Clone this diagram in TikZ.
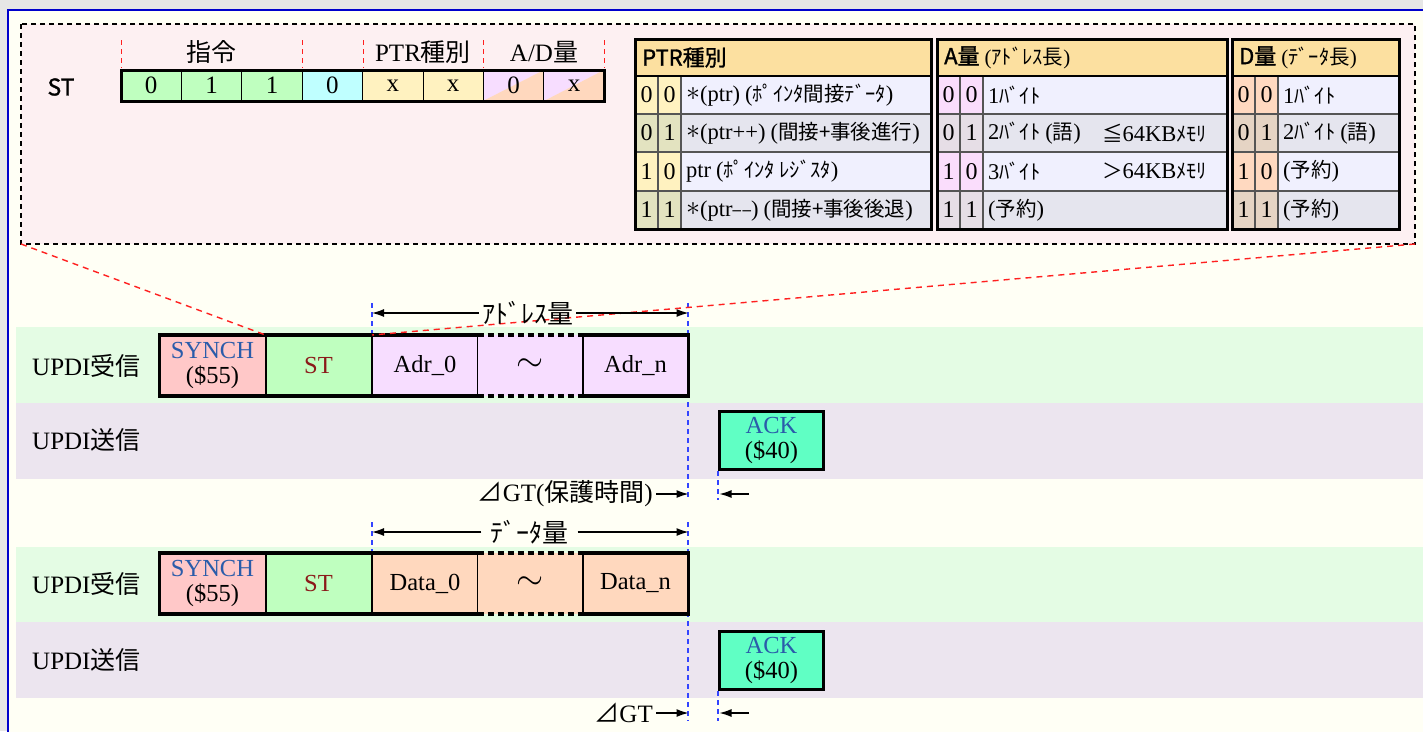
\documentclass[tikz,border=0pt]{standalone}
\usepackage{fontspec}
\setmainfont{Liberation Serif}
\newfontfamily\jp{Noto Sans CJK JP}
\newfontfamily\jpb[FakeBold=1.3]{Noto Sans CJK JP}
\usetikzlibrary{arrows.meta}
\definecolor{bggrey}{HTML}{E6E6E6}
\definecolor{ivory}{HTML}{FFFFF5}
\definecolor{frameblue}{HTML}{0000CC}
\definecolor{pinkbox}{HTML}{FDF0F2}
\definecolor{bandgreen}{HTML}{E4FCE4}
\definecolor{bandpurple}{HTML}{ECE5EF}
\definecolor{synchred}{HTML}{FFC8C8}
\definecolor{stgreen}{HTML}{BFFFBF}
\definecolor{adrpink}{HTML}{F7DDFF}
\definecolor{datapeach}{HTML}{FFD8BE}
\definecolor{ackgreen}{HTML}{60FFC4}
\definecolor{bitcyan}{HTML}{BFFFFF}
\definecolor{bityellow}{HTML}{FFF2C0}
\definecolor{tblhead}{HTML}{FCE0A0}
\definecolor{rowlight}{HTML}{F0F0FE}
\definecolor{rowdark}{HTML}{E5E5EE}
\definecolor{ptrlight}{HTML}{FFF2C0}
\definecolor{ptrdark}{HTML}{E3E3C0}
\definecolor{alight}{HTML}{FADDFC}
\definecolor{adark}{HTML}{E6DEE6}
\definecolor{dlight}{HTML}{FFD9C0}
\definecolor{ddark}{HTML}{E5D4C4}
\definecolor{txtblue}{HTML}{2A5CAA}
\definecolor{txtred}{HTML}{8B1A1A}
\definecolor{redline}{HTML}{FF2020}
\definecolor{bluedashc}{HTML}{3344FF}
\definecolor{cellline}{HTML}{555555}
\newcommand{\bigast}{\raisebox{0.5pt}{\scalebox{1.35}{$\ast$}}}
\newcommand{\cj}[1]{{\jp\fontsize{20.5}{22}\selectfont #1}}
\newcommand{\dmin}{\scalebox{0.75}[1]{–}\kern1.5pt\scalebox{0.75}[1]{–}}
\begin{document}
\begin{tikzpicture}[x=1pt,y=-1pt,
  tbox/.style={draw=black,line width=2pt,minimum width=106pt,minimum height=61pt,inner sep=0pt,outer sep=0pt,align=center,font=\fontsize{24.5}{25}\selectfont},
  tfill/.style={minimum width=106pt,minimum height=61pt,inner sep=0pt,outer sep=0pt,align=center,font=\fontsize{24.5}{25}\selectfont},
  ackbox/.style={draw=black,line width=3pt,fill=ackgreen,minimum width=104pt,minimum height=58pt,inner sep=0pt,outer sep=0pt,align=center,font=\fontsize{24.5}{25}\selectfont},
  thickframe/.style={line width=3.5pt,line cap=rect},
  tildedash/.style={line width=3.5pt,dash pattern=on 6pt off 4pt},
  bitcell/.style={draw=black,line width=1pt,minimum width=60.4pt,minimum height=31pt,inner sep=0pt,outer sep=0pt,font=\fontsize{25}{26}\selectfont},
  redtick/.style={draw=redline,line width=1pt,dash pattern=on 5pt off 4pt},
  reddash/.style={draw=redline,line width=1.4pt,dash pattern=on 6pt off 5pt},
  bluedash/.style={draw=bluedashc,line width=1.2pt,dash pattern=on 5pt off 4pt},
  dimarrow/.style={-{Latex[length=12pt,width=8pt]},line width=1.2pt},
  rowlbl/.style={anchor=west,font=\fontsize{25}{26}\selectfont,inner sep=0pt},
  celltxt/.style={anchor=west,font=\fontsize{22.5}{23}\selectfont,inner sep=0pt},
  bittxt/.style={font=\fontsize{24}{25}\selectfont,inner sep=0pt},
  headtxt/.style={anchor=west,font=\fontsize{22}{24}\selectfont,inner sep=0pt},
  toplbl/.style={font=\fontsize{25}{26}\selectfont,inner sep=0pt}
]
\useasboundingbox (0,0) rectangle (1423,731);
\fill[bggrey] (0,0) rectangle (1423,731);
\draw[frameblue,line width=2pt,fill=ivory] (8,10) rectangle (1450,760);
% pink dashed box
\draw[fill=pinkbox,line width=1.2pt,dash pattern=on 5pt off 4pt] (21,24) rectangle (1415,244);
\coordinate (pinkSW) at (21,244);
\coordinate (pinkSE) at (1415,244);

% bit field
\node[font=\jpb\fontsize{23}{24}\selectfont] (stl) at (61,87) {ST};
\foreach \x in {121,302,363,483,604} \draw[redtick] (\x,40) -- (\x,68);
\node[toplbl] (lblcmd) at (211,52) {\jp 指令};
\node[toplbl] (lblptr) at (423,52) {PTR{\jp 種別}};
\node[toplbl] (lblad) at (544,52) {A/D{\jp 量}};
\fill[adrpink] (483,70) -- (544,70) -- (483,101) -- cycle;
\fill[datapeach] (544,70) -- (544,101) -- (483,101) -- cycle;
\fill[adrpink] (544,70) -- (604,70) -- (544,101) -- cycle;
\fill[datapeach] (604,70) -- (604,101) -- (544,101) -- cycle;
\node[bitcell,fill=stgreen] (b1) at (151.2,85.5) {0};
\node[bitcell,fill=stgreen] (b2) at (211.6,85.5) {1};
\node[bitcell,fill=stgreen] (b3) at (272.0,85.5) {1};
\node[bitcell,fill=bitcyan] (b4) at (332.4,85.5) {0};
\node[bitcell,fill=bityellow] (b5) at (392.8,85.5) {x};
\node[bitcell,fill=bityellow] (b6) at (453.2,85.5) {x};
\node[bitcell] (b7) at (513.6,85.5) {0};
\node[bitcell] (b8) at (574.0,85.5) {x};
\draw[line width=3pt] (b1.north west) rectangle (b8.south east);

% ---------- PTR table
\fill[tblhead] (635,39) rectangle (931,76);
\foreach \yt/\yb/\cb/\ct/\ba/\bb in {76/114/ptrlight/rowlight/0/0, 114/152/ptrdark/rowdark/0/1, 152/191/ptrlight/rowlight/1/0, 191/229/ptrdark/rowdark/1/1}{
  \path[fill=\cb,draw=cellline,line width=1.2pt] (635,\yt) rectangle (658,\yb);
  \path[fill=\cb,draw=cellline,line width=1.2pt] (658,\yt) rectangle (681,\yb);
  \path[fill=\ct,draw=cellline,line width=1.2pt] (681,\yt) rectangle (931,\yb);
  \node[bittxt] (pba\yt) at (646.5,{(\yt+\yb)/2}) {\ba};
  \node[bittxt] (pbb\yt) at (669.5,{(\yt+\yb)/2}) {\bb};
}
\draw[line width=2.5pt] (635,76) -- (931,76);
\draw[line width=3pt] (635,39) rectangle (931,229);
\node[headtxt] (ph) at (642,57.5) {\jpb PTR種別};
\node[celltxt] (p1) at (686,95) {\bigast(ptr)\hspace{5pt}(\cj{ﾎﾟｲﾝﾀ間接ﾃﾞｰﾀ})};
\node[celltxt] (p2) at (686,133) {\bigast(ptr++)\hspace{5pt}(\cj{間接+事後進行})};
\node[celltxt] (p3) at (686,171.5) {ptr\hspace{5pt}(\cj{ﾎﾟｲﾝﾀ ﾚｼﾞｽﾀ})};
\node[celltxt] (p4) at (686,210) {\bigast(ptr\dmin)\hspace{5pt}(\cj{間接+事後後退})};

% ---------- A table
\fill[tblhead] (937,39) rectangle (1227,76);
\foreach \yt/\yb/\cb/\ct/\ba/\bb in {76/114/alight/rowlight/0/0, 114/152/adark/rowdark/0/1, 152/191/alight/rowlight/1/0, 191/229/adark/rowdark/1/1}{
  \path[fill=\cb,draw=cellline,line width=1.2pt] (937,\yt) rectangle (960,\yb);
  \path[fill=\cb,draw=cellline,line width=1.2pt] (960,\yt) rectangle (983,\yb);
  \path[fill=\ct,draw=cellline,line width=1.2pt] (983,\yt) rectangle (1227,\yb);
  \node[bittxt] (aba\yt) at (948.5,{(\yt+\yb)/2}) {\ba};
  \node[bittxt] (abb\yt) at (971.5,{(\yt+\yb)/2}) {\bb};
}
\draw[line width=2.5pt] (937,76) -- (1227,76);
\draw[line width=3pt] (937,39) rectangle (1227,229);
\node[headtxt] (ah) at (944,57.5) {{\jpb A量}\hspace{5pt}{\fontsize{21}{22}\selectfont(\cj{ｱﾄﾞﾚｽ長})}};
\node[celltxt] (a1) at (988,95) {1\cj{ﾊﾞｲﾄ}};
\node[celltxt] (a2) at (988,133) {2\cj{ﾊﾞｲﾄ}\hspace{5pt}(\cj{語})};
\node[celltxt] (a2b) at (1102,133) {\cj{≦}64KB\cj{ﾒﾓﾘ}};
\node[celltxt] (a3) at (988,171.5) {3\cj{ﾊﾞｲﾄ}};
\node[celltxt] (a3b) at (1102,171.5) {\cj{＞}64KB\cj{ﾒﾓﾘ}};
\node[celltxt] (a4) at (988,210) {(\cj{予約})};

% ---------- D table
\fill[tblhead] (1232,39) rectangle (1399,76);
\foreach \yt/\yb/\cb/\ct/\ba/\bb in {76/114/dlight/rowlight/0/0, 114/152/ddark/rowdark/0/1, 152/191/dlight/rowlight/1/0, 191/229/ddark/rowdark/1/1}{
  \path[fill=\cb,draw=cellline,line width=1.2pt] (1232,\yt) rectangle (1255,\yb);
  \path[fill=\cb,draw=cellline,line width=1.2pt] (1255,\yt) rectangle (1278,\yb);
  \path[fill=\ct,draw=cellline,line width=1.2pt] (1278,\yt) rectangle (1399,\yb);
  \node[bittxt] (dba\yt) at (1243.5,{(\yt+\yb)/2}) {\ba};
  \node[bittxt] (dbb\yt) at (1266.5,{(\yt+\yb)/2}) {\bb};
}
\draw[line width=2.5pt] (1232,76) -- (1399,76);
\draw[line width=3pt] (1232,39) rectangle (1399,229);
\node[headtxt] (dh) at (1239,57.5) {{\jpb D量}\hspace{5pt}{\fontsize{21}{22}\selectfont(\cj{ﾃﾞｰﾀ長})}};
\node[celltxt] (d1) at (1283,95) {1\cj{ﾊﾞｲﾄ}};
\node[celltxt] (d2) at (1283,133) {2\cj{ﾊﾞｲﾄ}\hspace{5pt}(\cj{語})};
\node[celltxt] (d3) at (1283,171.5) {(\cj{予約})};
\node[celltxt] (d4) at (1283,210) {(\cj{予約})};

% ---------- bands
\fill[bandgreen] (16,327) rectangle (1423,403);
\fill[bandpurple] (16,403) rectangle (1423,479);
\fill[bandgreen] (16,547) rectangle (1423,622);
\fill[bandpurple] (16,622) rectangle (1423,698);

\node[rowlbl] (l1) at (32,365.5) {UPDI{\jp 受信}};
\node[rowlbl] (l2) at (32,440) {UPDI{\jp 送信}};
\node[rowlbl] (l3) at (32,583.5) {UPDI{\jp 受信}};
\node[rowlbl] (l4) at (32,660) {UPDI{\jp 送信}};

% ---------- section 1
\draw[bluedash] (372,303) -- (372,335);
\draw[bluedash] (688,303) -- (688,500);
\draw[bluedash] (718,471) -- (718,500);
\node[tbox,fill=synchred] (s1) at (212.5,365.5) {\textcolor{txtblue}{SYNCH}\\(\$55)};
\node[tbox,fill=stgreen] (st1) at (318.5,365.5) {\textcolor{txtred}{ST}};
\node[tbox,fill=adrpink] (adr0) at (425,365.5) {Adr\_0};
\node[tfill,fill=adrpink] (til1) at (530.5,365.5) {\scalebox{1.4}{$\sim$}};
\node[tbox,fill=adrpink] (adrn) at (635.5,365.5) {Adr\_n};
\draw[thickframe] (til1.north west) -- (s1.north west) -- (s1.south west) -- (til1.south west);
\draw[thickframe] (til1.north east) -- (adrn.north east) -- (adrn.south east) -- (til1.south east);
\draw[tildedash] (til1.north west) -- (til1.north east);
\draw[tildedash] (til1.south west) -- (til1.south east);
\node[ackbox] (ack1) at (771.5,440) {\textcolor{txtblue}{ACK}\\(\$40)};

\draw[reddash] (pinkSW) -- (s1.north east);
\draw[reddash] (pinkSE) -- (adr0.north west);

\node[toplbl,font=\jp\fontsize{26}{28}\selectfont,inner sep=3pt] (adrlbl) at (527.5,313) {ｱﾄﾞﾚｽ量};
\draw[dimarrow] (adrlbl.west) -- (adr0.west |- adrlbl.west);
\draw[dimarrow] (adrlbl.east) -- (adrn.east |- adrlbl.east);

\node[toplbl,anchor=east,inner sep=3pt] (gt1) at (656,494) {{\jp ⊿}GT({\jp 保護時間})};
\draw[dimarrow] (gt1.east) -- (adrn.east |- gt1.east);
\coordinate (gr1) at (749,494);
\draw[dimarrow] (gr1) -- (ack1.west |- gr1);

% ---------- section 2
\draw[bluedash] (372,522) -- (372,553);
\draw[bluedash] (688,522) -- (688,721);
\draw[bluedash] (718,691) -- (718,721);
\node[tbox,fill=synchred] (s2) at (212.5,583.5) {\textcolor{txtblue}{SYNCH}\\(\$55)};
\node[tbox,fill=stgreen] (st2) at (318.5,583.5) {\textcolor{txtred}{ST}};
\node[tbox,fill=datapeach] (dat0) at (425,583.5) {Data\_0};
\node[tfill,fill=datapeach] (til2) at (530.5,583.5) {\scalebox{1.4}{$\sim$}};
\node[tbox,fill=datapeach] (datn) at (635.5,583.5) {Data\_n};
\draw[thickframe] (til2.north west) -- (s2.north west) -- (s2.south west) -- (til2.south west);
\draw[thickframe] (til2.north east) -- (datn.north east) -- (datn.south east) -- (til2.south east);
\draw[tildedash] (til2.north west) -- (til2.north east);
\draw[tildedash] (til2.south west) -- (til2.south east);
\node[ackbox] (ack2) at (771.5,660) {\textcolor{txtblue}{ACK}\\(\$40)};

\node[toplbl,font=\jp\fontsize{26}{28}\selectfont,inner sep=9pt] (datlbl) at (529.5,532) {ﾃﾞｰﾀ量};
\draw[dimarrow] (datlbl.west) -- (dat0.west |- datlbl.west);
\draw[dimarrow] (datlbl.east) -- (datn.east |- datlbl.east);

\node[toplbl,anchor=east,inner sep=3pt] (gt2) at (656,713) {{\jp ⊿}GT};
\draw[dimarrow] (gt2.east) -- (datn.east |- gt2.east);
\coordinate (gr2) at (749,713);
\draw[dimarrow] (gr2) -- (ack2.west |- gr2);
\end{tikzpicture}
\end{document}
